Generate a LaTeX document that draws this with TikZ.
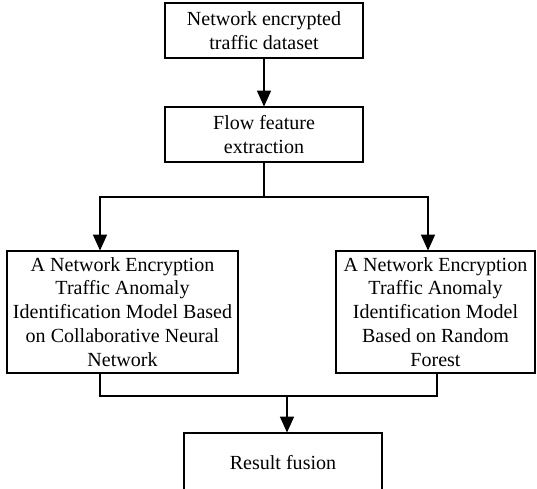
\documentclass[tikz,border=0pt]{standalone}
\usepackage{fontspec}
\setmainfont{Liberation Serif}
\usepackage{tikz}
\usetikzlibrary{arrows.meta}

\begin{document}
\begin{tikzpicture}[x=0.02cm, y=-0.02cm, line width=0.6pt,
    box/.style = {draw, align=center, inner sep=0pt, font=\fontsize{11.4}{13.6}\selectfont},
    arrow/.style = {-{Triangle[length=9pt, width=8pt]}}]
    \useasboundingbox (0,0) rectangle (537,488);
    % input and feature extraction
    \node (dataset) at (264,30.5) [box, minimum width=3.96cm, minimum height=1.1cm] {Network encrypted\\traffic dataset};
    \node (feature) at (264,134.5) [box, minimum width=3.96cm, minimum height=1.1cm] {Flow feature\\extraction};
    % the two identification models
    \node (cnn) at (122.5,312) [box, minimum width=4.62cm, minimum height=2.44cm] {A Network Encryption\\Traffic Anomaly\\Identification Model Based\\on Collaborative Neural\\Network};
    \node (rf) at (435.5,312) [box, minimum width=3.98cm, minimum height=2.44cm] {A Network Encryption\\Traffic Anomaly\\Identification Model\\Based on Random\\Forest};
    % fusion of the results
    \node (fusion) at (283,463) [box, minimum width=3.96cm, minimum height=1.2cm] {Result fusion};

    % turning points
    \coordinate (split) at (264,197);
    \coordinate (lturn) at (100,197);
    \coordinate (rturn) at (428,197);
    \coordinate (ldrop) at (100,396);
    \coordinate (rdrop) at (437,396);
    \coordinate (merge) at (287,396);

    % connections
    \draw[arrow] (dataset) -- (feature);
    \draw (feature) -- (split);
    \draw[arrow] (split) -- (lturn) -- (cnn.north -| lturn);
    \draw[arrow] (split) -- (rturn) -- (rf.north -| rturn);
    \draw (cnn.south -| ldrop) -- (ldrop) -- (rdrop) -- (rf.south -| rdrop);
    \draw[arrow] (merge) -- (fusion.north -| merge);
\end{tikzpicture}
\end{document}
